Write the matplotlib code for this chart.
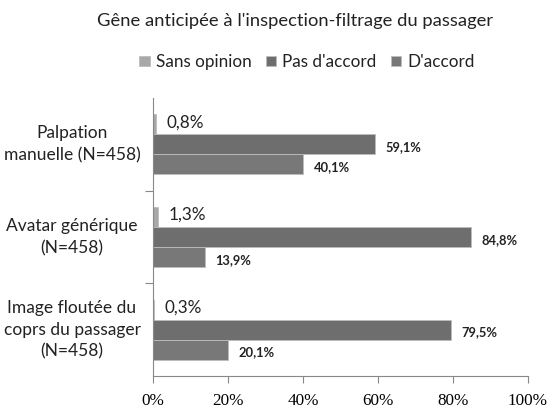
import matplotlib
matplotlib.use("Agg")
import matplotlib.pyplot as plt
import numpy as np

categories = ["Palpation\nmanuelle (N=458)", "Avatar générique\n(N=458)",
              "Image floutée du\ncoprs du passager\n(N=458)"]
series_names = ["Sans opinion", "Pas d'accord", "D'accord"]
sans_opinion = [0.8, 1.3, 0.3]
pas_accord = [59.1, 84.8, 79.5]
accord = [40.1, 13.9, 20.1]
xticks = [0, 20, 40, 60, 80, 100]
xticklabels = ["0%", "20%", "40%", "60%", "80%", "100%"]
title = "Gêne anticipée à l'inspection-filtrage du passager"

colors = ["#a8a8a8", "#6e6e6e", "#787878"]
sans = ["Lato", "DejaVu Sans"]

fig = plt.figure(figsize=(5.52, 4.09), dpi=100)
ax = fig.add_axes([153/552, 1-376/409, 375/552, 278/409])

y = np.arange(len(categories))
h = 0.217
data = [sans_opinion, pas_accord, accord]
for i, (vals, c, name) in enumerate(zip(data, colors, series_names)):
    pos = y + (i - 1) * h
    ax.barh(pos, vals, height=h, color=c, edgecolor="#bdbdbd", linewidth=0.6, label=name)
    for p, v in zip(pos, vals):
        txt = f"{v:.1f}%".replace(".", ",")
        if i == 0:
            ax.text(v + 2.8, p - 0.02, txt, va="center", ha="left", fontsize=12.3,
                    family=sans, color="#222222")
        else:
            ax.text(v + 2.8, p + 0.03, txt, va="center", ha="left", fontsize=9.3,
                    fontweight="bold", family=sans, color="#222222")

ax.set_ylim(2.5, -0.5)
ax.set_xlim(0, 100)
ax.set_yticks([0.5, 1.5])
ax.set_yticklabels([])
ax.tick_params(axis="y", length=6, color="#888888", width=0.8)
ax.set_xticks(xticks)
ax.set_xticklabels(xticklabels, family="Liberation Serif", fontsize=12.3)
ax.tick_params(axis="x", length=5, color="#888888", width=0.8, pad=7)
for s in ["top", "right"]:
    ax.spines[s].set_visible(False)
for s in ["left", "bottom"]:
    ax.spines[s].set_color("#888888")
    ax.spines[s].set_linewidth(0.8)

for yc, lab in zip(y, categories):
    ax.text(-0.216, yc, lab, transform=ax.get_yaxis_transform(), ha="center", va="center",
            fontsize=12.5, family=sans, color="#222222", linespacing=1.45)

fig.text(295/552, 1-21/409, title, ha="center", va="center", fontsize=13.2,
         family=sans, color="#222222")

handles, labels = ax.get_legend_handles_labels()
fig.legend(handles, labels, loc="center", bbox_to_anchor=(307/552, 1-62/409), ncol=3,
           frameon=False, prop={"family": sans, "size": 12.3}, handlelength=0.6,
           handleheight=0.6, handletextpad=0.35, columnspacing=0.85, labelcolor="#222222")

fig.savefig("out.png", dpi=100)
